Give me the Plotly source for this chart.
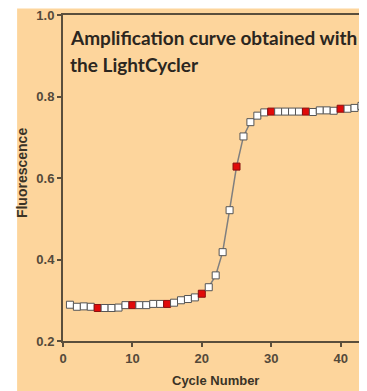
import plotly.graph_objects as go

cycles = list(range(1, 44))
fluorescence = [0.289, 0.284, 0.285, 0.284, 0.281, 0.281, 0.281, 0.282, 0.288, 0.288,
                0.288, 0.288, 0.291, 0.291, 0.291, 0.294, 0.300, 0.303, 0.307, 0.316,
                0.332, 0.361, 0.418, 0.521, 0.628, 0.702, 0.737, 0.753, 0.761, 0.763,
                0.763, 0.763, 0.763, 0.763, 0.763, 0.762, 0.766, 0.766, 0.765, 0.770,
                0.770, 0.772, 0.777]
highlighted_cycles = [5, 10, 15, 20, 25, 30, 35, 40]
x_ticks = [0, 10, 20, 30, 40]
y_ticks = [0.2, 0.4, 0.6, 0.8, 1.0]
title_lines = ["Amplification curve obtained with", "the LightCycler"]

ORANGE = "#FDD59C"
AXIS = "#5a4e3c"
TICKFONT = "#54493a"
SANS = "Liberation Sans, Arial, sans-serif"

fill = ["#E10A0A" if c in highlighted_cycles else "#FFFFFF" for c in cycles]
edge = ["#8a1010" if c in highlighted_cycles else "#555555" for c in cycles]

fig = go.Figure()
fig.add_trace(go.Scatter(
    x=cycles, y=fluorescence, mode="lines+markers",
    line=dict(color="#7f7f7f", width=1.5),
    marker=dict(symbol="square", size=7, color=fill, line=dict(color=edge, width=1)),
    showlegend=False, cliponaxis=False,
))

axis_common = dict(ticks="outside", ticklen=4, tickwidth=1.5, tickcolor=AXIS,
                   showline=True, linecolor=AXIS, linewidth=2, showgrid=False,
                   zeroline=False, ticklabeloverflow="allow",
                   tickfont=dict(family=SANS, size=13, color=TICKFONT, weight="bold"))

fig.update_layout(
    width=359, height=383,
    margin=dict(l=55, r=0, t=5, b=50),
    paper_bgcolor="white", plot_bgcolor=ORANGE,
    xaxis=dict(range=[0, 43.8], tickvals=x_ticks, mirror=True, **axis_common),
    yaxis=dict(range=[0.2, 1.0], tickvals=y_ticks, tickformat=".1f", **axis_common),
    shapes=[dict(type="rect", xref="paper", yref="paper", x0=-0.151, x1=1.01,
                 y0=-0.16, y1=1.02, fillcolor=ORANGE, line=dict(width=0), layer="below")],
    annotations=[
        dict(text="<b>" + title_lines[0] + "</b>", xref="paper", yref="paper",
             x=0.016, y=0.930, xanchor="left", yanchor="middle", showarrow=False,
             font=dict(family="Lato, DejaVu Sans", size=19, color="#2b2620")),
        dict(text="<b>" + title_lines[1] + "</b>", xref="paper", yref="paper",
             x=0.016, y=0.848, xanchor="left", yanchor="middle", showarrow=False,
             font=dict(family="Lato, DejaVu Sans", size=19, color="#2b2620")),
        dict(text="<b>Cycle Number</b>", xref="paper", yref="paper", x=0.502, y=-0.122,
             xanchor="center", yanchor="middle", showarrow=False,
             font=dict(family=SANS, size=13, color="#3a3326")),
        dict(text="<b>Fluorescence</b>", xref="paper", yref="paper", x=-0.135, y=0.515,
             xanchor="center", yanchor="middle", textangle=-90, showarrow=False,
             font=dict(family=SANS, size=14, color="#3a3326")),
    ],
)

fig.write_html("out.html")
